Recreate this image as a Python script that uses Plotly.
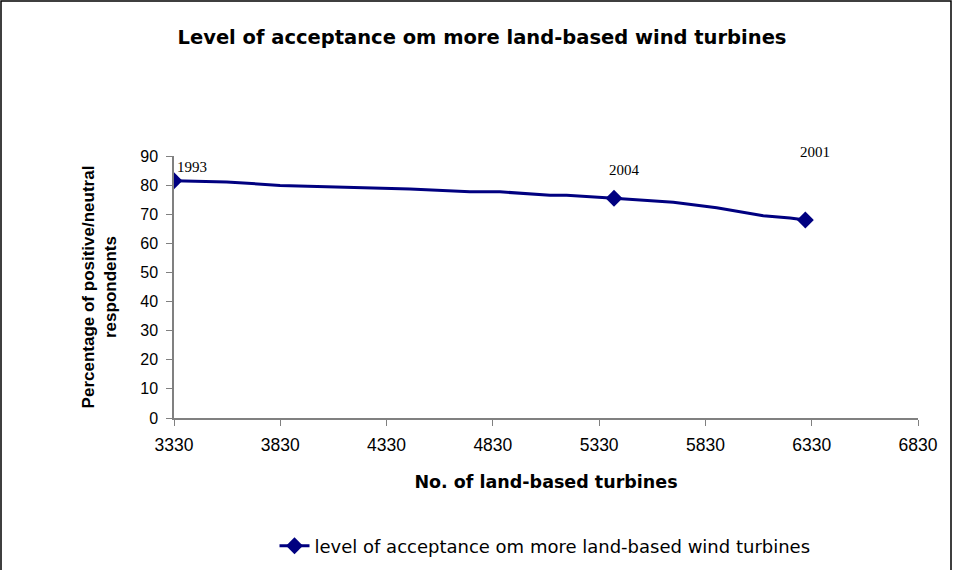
import plotly.graph_objects as go

# Line through the data
turbines = [3330, 3578, 3829, 4440, 4722, 4863, 5099, 5177, 5400, 5679, 5883, 6102, 6228, 6300]
acceptance = [81.5, 81.1, 79.9, 78.7, 77.7, 77.7, 76.5, 76.5, 75.5, 74.1, 72.2, 69.5, 68.7, 68.0]

# Marked survey points
survey_years = ["1993", "2004", "2001"]
survey_turbines = [3330, 5400, 6300]
survey_acceptance = [81.5, 75.5, 68.0]

x_ticks = [3330, 3830, 4330, 4830, 5330, 5830, 6330, 6830]
y_ticks = [0, 10, 20, 30, 40, 50, 60, 70, 80, 90]

series_name = "level of acceptance om more land-based wind turbines"
navy = "#000080"

fig = go.Figure()
fig.add_trace(go.Scatter(x=turbines, y=acceptance, mode="lines",
                         line=dict(color=navy, width=3), showlegend=False, hoverinfo="skip"))
fig.add_trace(go.Scatter(x=survey_turbines, y=survey_acceptance, mode="markers",
                         marker=dict(symbol="diamond", size=13, color=navy),
                         showlegend=False))
fig.add_trace(go.Scatter(x=[None], y=[None], mode="lines+markers", name=series_name,
                         line=dict(color=navy, width=3),
                         marker=dict(symbol="diamond", size=13, color=navy)))

offsets = [(18, 14), (10, 28), (10, 68)]
for yr, xv, yv, (dx, dy) in zip(survey_years, survey_turbines, survey_acceptance, offsets):
    fig.add_annotation(x=xv, y=yv, xref="x", yref="y", text=yr, showarrow=False,
                       xshift=dx, yshift=dy,
                       font=dict(family="Liberation Serif", size=15, color="black"))

W, H = 953, 570
LEFT, RIGHT, TOP, BOT = 174, 918, 156, 418
fig.update_layout(
    width=W, height=H,
    margin=dict(l=LEFT, r=W - RIGHT, t=TOP, b=H - BOT),
    paper_bgcolor="white", plot_bgcolor="white",
    font=dict(family="Liberation Sans", size=17, color="black"),
    title=dict(text="<b>Level of acceptance om more land-based wind turbines</b>",
               x=482 / W, xanchor="center", y=1 - 37 / H, yanchor="middle",
               font=dict(family="DejaVu Sans", size=19.5)),
    legend=dict(orientation="h", xref="container", yref="container",
                x=545 / W, xanchor="center", y=1 - 546 / H, yanchor="middle",
                font=dict(family="DejaVu Sans", size=18)),
    showlegend=True,
)
fig.update_xaxes(range=[3330, 6830], tickvals=x_ticks, ticktext=[str(v) for v in x_ticks],
                 showgrid=False, zeroline=False, showline=True, linecolor="#808080", linewidth=1.5,
                 ticks="outside", ticklen=6, tickcolor="#808080", tickfont=dict(size=17.5),
                 ticklabelstandoff=4, automargin=False,
                 title=dict(text="<b>No. of land-based turbines</b>", standoff=22,
                            font=dict(family="DejaVu Sans", size=17.5)))
fig.update_yaxes(range=[0, 90], tickvals=y_ticks,
                 showgrid=False, zeroline=False, showline=True, linecolor="#808080", linewidth=1.5,
                 ticks="outside", ticklen=6, tickcolor="#808080", tickfont=dict(size=16),
                 ticklabelstandoff=5, automargin=False,
                 title=dict(text="<b>Percentage of positive/neutral<br>respondents</b>", standoff=19,
                            font=dict(size=17)))

# outer frame
ph = BOT - TOP
pw = RIGHT - LEFT
fig.add_shape(type="rect", xref="paper", yref="paper",
              x0=(1 - LEFT) / pw, x1=(951 - LEFT) / pw,
              y0=(BOT - 600) / ph, y1=(BOT - 1) / ph,
              line=dict(color="black", width=1.5), fillcolor="rgba(0,0,0,0)", layer="below")

fig.write_html("out.html", config={"displayModeBar": False},
               post_script="document.body.style.margin='0';")
